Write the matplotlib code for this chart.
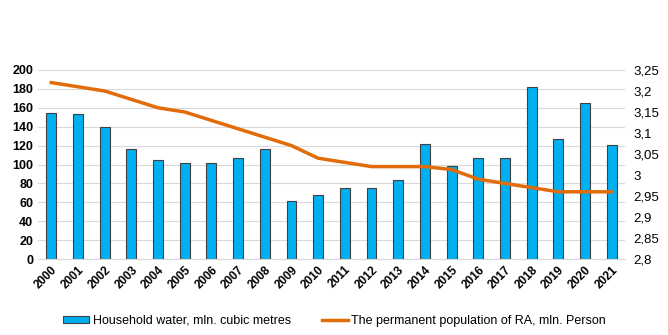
import matplotlib.pyplot as plt
from matplotlib.lines import Line2D
from matplotlib.patches import Patch
from matplotlib.ticker import FuncFormatter

years = [str(y) for y in range(2000, 2022)]
water = [155, 153, 140, 116, 105, 102, 102, 107, 116, 61, 68,
         75, 75, 84, 122, 98, 107, 107, 182, 127, 165, 121]
population = [3.22, 3.21, 3.20, 3.18, 3.16, 3.15, 3.13, 3.11, 3.09, 3.07, 3.04,
              3.03, 3.02, 3.02, 3.02, 3.013, 2.99, 2.98, 2.97, 2.96, 2.96, 2.96]

BAR = "#00B0F0"
LINE = "#E36C0A"
GRID = "#D9D9D9"

plt.rcParams["font.family"] = ["Liberation Sans", "DejaVu Sans"]

fig = plt.figure(figsize=(6.68, 3.35), dpi=100)
ax = fig.add_axes([38 / 668, 1 - 259 / 335, (625 - 38) / 668, (259 - 70) / 335])
x = list(range(len(years)))

ax.bar(x, water, width=0.37, color=BAR, edgecolor="#404040", linewidth=0.8, zorder=2)
ax.set_ylim(0, 200)
ax.set_yticks(range(0, 201, 20))
ax.set_xlim(-0.5, len(years) - 0.5)
ax.set_xticks(x)
ax.set_xticklabels(years, rotation=45, ha="right", rotation_mode="anchor",
                   fontsize=8.5, fontweight="bold")
ax.grid(axis="y", color=GRID, linewidth=0.8, zorder=0)
ax.tick_params(length=0)
for lbl in ax.get_yticklabels():
    lbl.set_fontweight("bold")
    lbl.set_fontsize(9)
for s in ["top", "right", "left"]:
    ax.spines[s].set_visible(False)
ax.spines["bottom"].set_color(GRID)

ax2 = ax.twinx()
ax2.plot(x, population, color=LINE, linewidth=2.5, zorder=3)
ax2.set_ylim(2.8, 3.25)
ax2.set_yticks([2.8 + 0.05 * i for i in range(10)])
ax2.yaxis.set_major_formatter(FuncFormatter(lambda v, p: f"{v:.2f}".rstrip("0").rstrip(".").replace(".", ",")))
ax2.tick_params(length=0, labelsize=9.5, pad=6)
for s in ax2.spines.values():
    s.set_visible(False)

handles = [Patch(facecolor=BAR, edgecolor="#404040", linewidth=0.8),
           Line2D([0], [0], color=LINE, linewidth=2.5)]
labels = ["Household water, mln. cubic metres",
          "The permanent population of RA, mln. Person"]
fig.legend(handles, labels, loc="center", bbox_to_anchor=(0.501, 0.042), ncol=2,
           frameon=False, fontsize=9, handlelength=2.1, handleheight=0.6,
           handletextpad=0.25, columnspacing=2.5, borderpad=0)

fig.savefig("out.png", dpi=100)
